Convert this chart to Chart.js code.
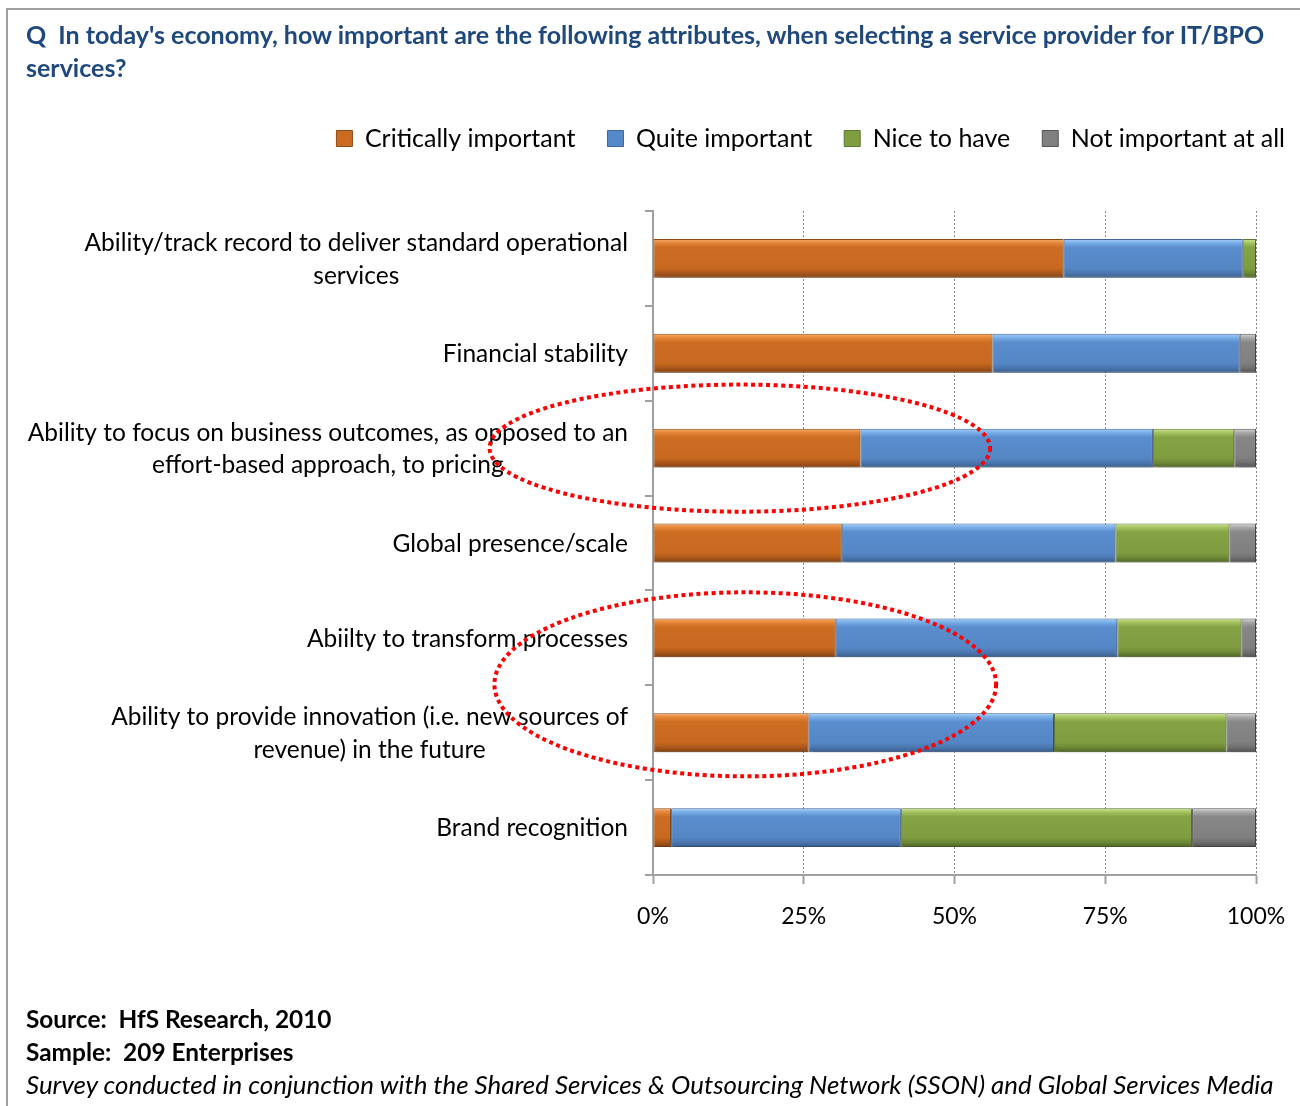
<!DOCTYPE html>
<html>
<head>
<meta charset="utf-8">
<script src="https://cdn.jsdelivr.net/npm/chart.js@4.4.1/dist/chart.umd.min.js"></script>
<style>
  html, body { margin: 0; padding: 0; background: #fff; }
  #page { position: relative; width: 1300px; height: 1106px; overflow: hidden; background: #fff; font-family: Lato, "Open Sans", sans-serif; }
  #frame { position: absolute; left: 6px; top: 8px; width: 1310px; height: 1110px; border-left: 2px solid #a0a0a0; border-top: 2px solid #a0a0a0; }
  #chart { position: absolute; left: 0; top: 0; }
  #title { position: absolute; left: 26px; top: 18px; width: 1274px; color: #1f497d; font-weight: bold; font-size: 25px; line-height: 33px; white-space: nowrap; }
  #foot { position: absolute; left: 26px; top: 1003px; color: #000; font-size: 24.4px; line-height: 32.5px; white-space: nowrap; }
  #foot b { font-weight: bold; }
  #foot i { font-size: 25.9px; }
</style>
</head>
<body>
<div id="page">
  <div id="frame"></div>
  <canvas id="chart" width="1300" height="1106"></canvas>
  <div id="title">Q&nbsp; In today's economy, how important are the following attributes, when selecting a service provider for IT/BPO<br>services?</div>
  <div id="foot">
    <b>Source:&nbsp; HfS Research, 2010</b><br>
    <b>Sample:&nbsp; 209 Enterprises</b><br>
    <i>Survey conducted in conjunction with the Shared Services &amp; Outsourcing Network (SSON) and Global Services Media</i>
  </div>
</div>
<script>
const categories = [
  ["Ability/track record to deliver standard operational", "services"],
  ["Financial stability"],
  ["Ability to focus on business outcomes, as opposed to an", "effort-based approach, to pricing"],
  ["Global presence/scale"],
  ["Abiilty to transform processes"],
  ["Ability to provide innovation (i.e. new sources of", "revenue) in the future"],
  ["Brand recognition"]
];

const seriesNames = ["Critically important", "Quite important", "Nice to have", "Not important at all"];
const critical = [68.1, 56.3, 34.4, 31.3, 30.3, 25.8, 3.0];
const quite = [29.7, 41.0, 48.5, 45.4, 46.7, 40.7, 38.1];
const nice = [2.2, 0, 13.5, 18.9, 20.6, 28.6, 48.3];
const notImportant = [0, 2.7, 3.6, 4.4, 2.4, 4.9, 10.6];

const xTicks = [0, 25, 50, 75, 100];

// red dotted rings drawn on the picture (centre in % / category index, radii in the same units)
const rings = [
  { x: 14.4, y: 2.0, rx: 41.5, ry: 0.67 },
  { x: 15.3, y: 4.49, rx: 41.6, ry: 0.97 }
];

const BAR_PCT = 0.41;
const FONT = "Lato, 'Open Sans', sans-serif";

const palette = [
  { mid: "#cb6b22", border: "#8e4a16", stops: ["#f8b06a", "#e5863a", "#cd6d23", "#c9691f", "#a9561a", "#7f4214"] },
  { mid: "#5589c9", border: "#3f679a", stops: ["#a8d0f8", "#78aee8", "#5a8dcd", "#5587c7", "#4a76ae", "#3a5d8a"] },
  { mid: "#7f9e40", border: "#5d7830", stops: ["#cfe59a", "#a5c45f", "#84a345", "#7f9d40", "#6c8736", "#4f6427"] },
  { mid: "#808080", border: "#555555", stops: ["#dadada", "#a8a8a8", "#878787", "#808080", "#6e6e6e", "#505050"] }
];

function barFill(p) {
  return (c) => {
    const y = c.chart.scales.y;
    if (c.dataIndex == null || !y || !y.height) return p.mid;
    const cy = y.getPixelForValue(c.dataIndex);
    const h = (y.height / categories.length) * BAR_PCT / 2;
    const g = c.chart.ctx.createLinearGradient(0, cy - h, 0, cy + h);
    [0, 0.1, 0.22, 0.75, 0.88, 1].forEach((o, i) => g.addColorStop(o, p.stops[i]));
    return g;
  };
}

const shadow = {
  id: "shadow",
  beforeDatasetsDraw(chart) {
    const ctx = chart.ctx;
    ctx.save();
    ctx.shadowColor = "rgba(0,0,0,0.28)";
    ctx.shadowBlur = 4;
    ctx.shadowOffsetX = 2;
    ctx.shadowOffsetY = 3;
  },
  afterDatasetsDraw(chart) {
    chart.ctx.restore();
  }
};

// category labels: block right aligned, lines centred inside the block
const yLabels = {
  id: "yLabels",
  afterDraw(chart) {
    const ctx = chart.ctx;
    const y = chart.scales.y;
    const right = chart.chartArea.left - 25;
    const lh = 32.5;
    ctx.save();
    ctx.font = "24.5px " + FONT;
    ctx.fillStyle = "#000";
    ctx.textAlign = "center";
    ctx.textBaseline = "middle";
    categories.forEach((lines, i) => {
      const w = Math.max(...lines.map((t) => ctx.measureText(t).width));
      const cx = right - w / 2;
      const cy = y.getPixelForValue(i) + 1;
      lines.forEach((t, k) => {
        ctx.fillText(t, cx, cy + (k - (lines.length - 1) / 2) * lh);
      });
    });
    ctx.restore();
  }
};

const ringPlugin = {
  id: "rings",
  afterDraw(chart) {
    const ctx = chart.ctx;
    const xs = chart.scales.x;
    const ys = chart.scales.y;
    ctx.save();
    ctx.strokeStyle = "#ff0000";
    ctx.lineWidth = 4;
    ctx.setLineDash([4, 3.5]);
    rings.forEach((r) => {
      const cx = xs.getPixelForValue(r.x);
      const cy = ys.getPixelForValue(r.y);
      const rx = xs.getPixelForValue(r.x + r.rx) - cx;
      const ry = ys.getPixelForValue(r.y + r.ry) - cy;
      ctx.beginPath();
      ctx.ellipse(cx, cy, rx, ry, 0, 0, Math.PI * 2);
      ctx.stroke();
    });
    ctx.restore();
  }
};

const legendFix = {
  id: "legendFix",
  beforeInit(chart) {
    const fit = chart.legend.fit;
    chart.legend.fit = function () {
      fit.call(this);
      this.height = 117;
    };
  },
  afterLayout(chart) {
    // legend row ends closer to the right edge than the plot does
    chart.legend.right += 17;
  }
};

const series = [critical, quite, nice, notImportant];

new Chart(document.getElementById("chart"), {
  type: "bar",
  data: {
    labels: categories,
    datasets: series.map((d, i) => ({
      label: seriesNames[i],
      data: d,
      backgroundColor: barFill(palette[i]),
      borderColor: palette[i].border,
      borderWidth: 1,
      borderSkipped: false,
      barPercentage: BAR_PCT,
      categoryPercentage: 1
    }))
  },
  options: {
    indexAxis: "y",
    responsive: false,
    animation: false,
    layout: { padding: { top: 94, left: 0, right: 0, bottom: 151 } },
    plugins: {
      legend: {
        position: "top",
        align: "end",
        labels: {
          color: "#000",
          font: { family: FONT, size: 25 },
          boxWidth: 16,
          boxHeight: 16,
          padding: 32,
          generateLabels(chart) {
            return chart.data.datasets.map((ds, i) => ({
              text: ds.label,
              fillStyle: palette[i].mid,
              strokeStyle: palette[i].border,
              lineWidth: 1,
              datasetIndex: i,
              hidden: false
            }));
          }
        }
      },
      tooltip: { enabled: false }
    },
    scales: {
      x: {
        stacked: true,
        min: 0,
        max: 100,
        afterFit(s) {
          s.height = 80;
          s.paddingRight = 44;
        },
        afterBuildTicks(s) {
          s.ticks = xTicks.map((v) => ({ value: v }));
        },
        ticks: {
          color: "#000",
          font: { family: FONT, size: 23 },
          padding: 19,
          callback: (v) => v + "%"
        },
        grid: {
          color: "#8a8a8a",
          lineWidth: 1,
          tickLength: 9,
          tickColor: "#a0a0a0",
          tickWidth: 2
        },
        border: { display: true, color: "#a0a0a0", width: 2, dash: [2, 2] }
      },
      y: {
        stacked: true,
        afterFit(s) {
          s.width = 653;
        },
        ticks: { display: false },
        grid: {
          offset: true,
          drawOnChartArea: false,
          drawTicks: true,
          tickLength: 8,
          color: "#a0a0a0",
          lineWidth: 2
        },
        border: { display: true, color: "#a0a0a0", width: 2 }
      }
    }
  },
  plugins: [legendFix, shadow, yLabels, ringPlugin]
});
</script>
</body>
</html>
